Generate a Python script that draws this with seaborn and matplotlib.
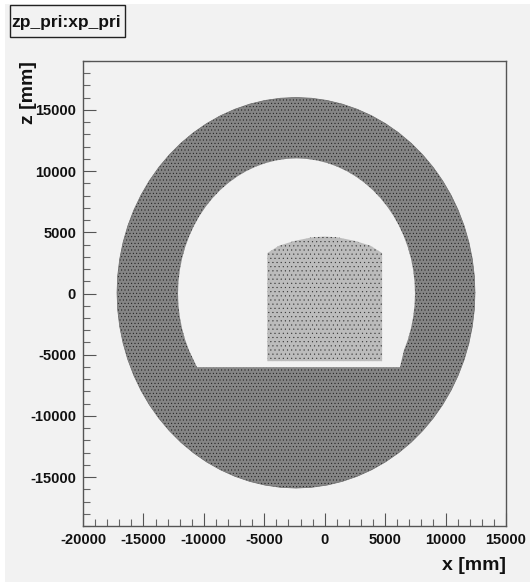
"""
zp_pri:xp_pri hit map, outlines read off the reference picture.
Individual hits cannot be read, so regions are stippled rather than simulated.
"""

import matplotlib
matplotlib.use('Agg')
import matplotlib.pyplot as plt
import seaborn as sns
from matplotlib.patches import Rectangle

# Outlines (mm)
outer_x = [12434, 12378, 12209, 11929, 11541, 11046, 10450, 9756, 8969, 8096, 7144, 6119, 5029,
           3883, 2689, 1457, 196, -1085, -2376, -3667, -4948, -6209, -7441, -8635, -9781,
           -10871, -11896, -12848, -13721, -14508, -15202, -15798, -16293, -16681, -16961,
           -17130, -17186, -17130, -16961, -16681, -16293, -15798, -15202, -14508, -13721,
           -12848, -11896, -10871, -9781, -8635, -7441, -6209, -4948, -3667, -2376, -1085,
           196, 1457, 2689, 3883, 5029, 6119, 7144, 8096, 8969, 9756, 10450, 11046, 11541,
           11929, 12209, 12378, 12434]
outer_z = [60, 1452, 2831, 4190, 5519, 6805, 8040, 9215, 10319, 11345, 12286, 13134, 13882,
           14525, 15057, 15476, 15777, 15959, 16020, 15959, 15777, 15476, 15057, 14525, 13882,
           13134, 12286, 11345, 10319, 9215, 8040, 6805, 5519, 4190, 2831,
           1452, 60, -1332, -2711, -4070, -5399, -6685, -7920, -9095, -10199,
           -11225, -12166, -13014, -13762, -14405, -14937, -15356, -15657, -15839, -15900, -15839,
           -15657, -15356, -14937, -14405, -13762, -13014, -12166, -11225, -10199, -9095, -7920,
           -6685, -5399, -4070, -2711, -1332, 60]
inner_x = [6230, 6551, 6879, 7136, 7321, 7433, 7470, 7433, 7321, 7136, 6879, 6551, 6156, 5697,
           5176, 4598, 3968, 3289, 2568, 1809, 1018, 203, -632, -1480, -2335, -3190, -4038,
           -4873, -5688, -6479, -7238, -7959, -8638, -9268, -9846, -10367, -10826, -11221,
           -11549, -11806, -11991, -12103, -12140, -12103, -11991, -11806, -11549, -11221,
           -10570, 6230]
inner_z = [-6020, -4665, -3776, -2857, -1917, -963, 0, 963, 1917, 2857, 3776, 4665, 5520, 6333,
           7096, 7806, 8457, 9044, 9561, 10006, 10374, 10663, 10872, 10998, 11040, 10998, 10872,
           10663, 10374, 10006, 9561, 9044, 8457, 7806, 7096, 6333, 5520, 4665,
           3776, 2857, 1917, 963, 0, -963, -1917, -2857, -3776, -4665,
           -6020, -6020]
core_x = [-4750, 4750, 4750, 3800, 2500, 1000, 0, -1000, -2500, -3800, -4750, -4750]
core_z = [-5530, -5530, 3300, 3900, 4300, 4600, 4650, 4600, 4300, 3900, 3300, -5530]

x_major = [-20000, -15000, -10000, -5000, 0, 5000, 10000, 15000]
z_major = [-15000, -10000, -5000, 0, 5000, 10000, 15000]
x_minor = list(range(-20000, 15001, 1000))
z_minor = list(range(-19000, 19001, 1000))

BG = '#f2f2f2'
sns.set_style('ticks')
plt.rcParams['font.family'] = ['Liberation Sans', 'DejaVu Sans']
plt.rcParams['font.weight'] = 'bold'
plt.rcParams['hatch.linewidth'] = 0.3
plt.rcParams['axes.unicode_minus'] = False

W, H = 530, 583
fig = plt.figure(figsize=(W / 100, H / 100), dpi=100, facecolor='white')
fig.add_artist(Rectangle((5 / W, 1 / H), 1, 578 / H, transform=fig.transFigure,
                         facecolor=BG, edgecolor='none', zorder=-5))
ax = fig.add_axes([83 / W, 1 - 526 / H, 423 / W, 465 / H], facecolor=BG)

# Ring, cut-out and central block
ax.fill(outer_x, outer_z, facecolor='#858585', edgecolor='none', zorder=1)
ax.fill(outer_x, outer_z, facecolor='none', edgecolor='#111111', hatch='.....', lw=0, zorder=2)
sns.lineplot(x=outer_x, y=outer_z, sort=False, estimator=None, color='#6a6a6a', lw=0.5,
             ax=ax, zorder=2.5)
ax.fill(inner_x, inner_z, facecolor=BG, edgecolor='none', zorder=3)
ax.fill(core_x, core_z, facecolor='#bcbcbc', edgecolor='none', zorder=4)
ax.fill(core_x, core_z, facecolor='none', edgecolor='#333333', hatch='....', lw=0, zorder=5)

ax.set_xlim(-20000, 15000)
ax.set_ylim(-19000, 19000)
ax.set_xticks(x_major)
ax.set_yticks(z_major)
ax.set_xticks(x_minor, minor=True)
ax.set_yticks(z_minor, minor=True)
ax.tick_params(which='major', direction='in', length=9.5, width=0.8, color='#555555',
               labelsize=10.5, pad=5, labelcolor='#111111')
ax.tick_params(which='minor', direction='in', length=5, width=0.8, color='#666666')
for s in ax.spines.values():
    s.set_linewidth(1.0)
    s.set_color('#555555')

ax.set_xlabel('x [mm]', fontsize=14, fontweight='bold', color='#111111', ha='right', labelpad=0)
ax.xaxis.set_label_coords(1.0, -0.066)
ax.set_ylabel('z [mm]', fontsize=14, fontweight='bold', color='#111111', ha='right', labelpad=0)
ax.yaxis.set_label_coords(-0.109, 1.0)

# Title box
fig.add_artist(Rectangle((9.5 / W, 1 - 37 / H), 115 / W, 32 / H, transform=fig.transFigure,
                         facecolor=BG, edgecolor='#222222', lw=1.0))
fig.text(66.5 / W, 1 - 22 / H, 'zp_pri:xp_pri', ha='center', va='center', fontsize=12.5,
         fontweight='bold', color='#111111')

fig.savefig('out.png', dpi=100, facecolor='white')
